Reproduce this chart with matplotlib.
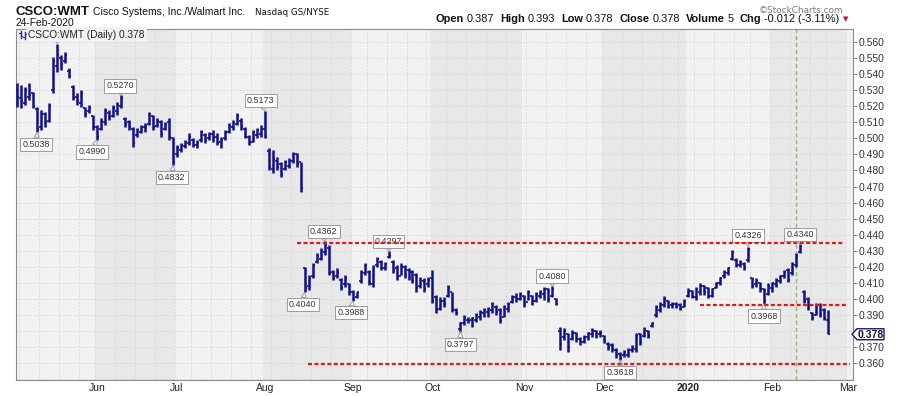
import numpy as np
import pandas as pd
import matplotlib
matplotlib.use("Agg")
import matplotlib.pyplot as plt
from matplotlib.transforms import Affine2D, blended_transform_factory
from matplotlib.patches import Polygon
from matplotlib.lines import Line2D

# ---------------- data (CSCO:WMT daily OHLC) ----------------
start_date = "2019-05-03"
end_date = "2020-02-24"
holidays = ["2019-05-27", "2019-07-04", "2019-09-02", "2019-11-28",
            "2019-12-25", "2020-01-01", "2020-01-20", "2020-02-17"]

high = [.5343,.5332,.5322,.5343,.5291,.5198,.5177,.5166,.5218,.5509,
        .5590,.5519,.5540,.5436,.5332,.5281,.5301,.5198,.5208,.5146,
        .5083,.5125,.5187,.5177,.5208,.5229,.5270,.5135,.5115,.5073,
        .5063,.5083,.5094,.5166,.5146,.5125,.5115,.5104,.5125,.5011,
        .4959,.4969,.4990,.5031,.5000,.4990,.5052,.5031,.5042,.5052,
        .5031,.5011,.5052,.5094,.5115,.5156,.5125,.5073,.5021,.5052,
        .5063,.5083,.5173,.4938,.4928,.4886,.4855,.4865,.4876,.4917,.4907,.4855,
        .4201,.4149,.4222,.4284,.4316,.4362,.4336,.4181,.4191,.4129,
        .4149,.4098,.4056,.4046,.4181,.4222,.4181,.4212,.4264,.4243,
        .4233,.4297,.4243,.4212,.4222,.4212,.4191,.4181,.4160,.4139,
        .4129,.4139,.4181,.4025,.4015,.4015,.4087,.4046,.3942,.3859,
        .3900,.3890,.3890,.3911,.3931,.3942,.3952,.3983,.3963,.3942,
        .3963,.3983,.4025,.4035,.4046,.4025,.4056,.4025,.4046,.4056,
        .4077,.4066,.4080,.4004,.3828,.3817,.3786,.3807,.3797,.3765,
        .3776,.3797,.3817,.3807,.3807,.3776,.3734,.3724,.3693,.3672,
        .3682,.3693,.3714,.3786,.3786,.3828,.3807,.3859,.3963,.3983,
        .4019,.3994,.3983,.3983,.3973,.3998,.4066,.4056,.4077,.4098,
        .4087,.4077,.4066,.4108,.4139,.4181,.4201,.4305,.4253,.4243,
        .4233,.4326,.4139,.4129,.4108,.4066,.4098,.4108,.4129,.4149,
        .4181,.4191,.4233,.4284,.4340,.4056,.4015,.3921,.3973,.3973,.3942,.3930]
low = [.5198,.5187,.5208,.5239,.5187,.5038,.5052,.5073,.5104,.5281,
       .5416,.5426,.5467,.5374,.5239,.5208,.5198,.5135,.5156,.5052,
       .4990,.5052,.5083,.5115,.5135,.5146,.5187,.5073,.5052,.4948,
       .5011,.5031,.5042,.5083,.5052,.5073,.5011,.5052,.4990,.4832,
       .4886,.4917,.4938,.4959,.4948,.4938,.4980,.4969,.4990,.4980,
       .4959,.4938,.4990,.5031,.5052,.5083,.5052,.5000,.4959,.4980,
       .5000,.5011,.5000,.4803,.4782,.4803,.4762,.4803,.4813,.4845,.4824,.4668,
       .4040,.4056,.4129,.4222,.4243,.4274,.4149,.4118,.4129,.4056,
       .4077,.4025,.3988,.4004,.4098,.4149,.4087,.4077,.4201,.4181,
       .4181,.4253,.4160,.4118,.4149,.4129,.4118,.4098,.4046,.4066,
       .4046,.4077,.3973,.3911,.3931,.3952,.4015,.3921,.3900,.3797,
       .3838,.3848,.3828,.3859,.3869,.3890,.3890,.3911,.3900,.3848,
       .3890,.3921,.3973,.3983,.3994,.3952,.3994,.3963,.3983,.4004,
       .3994,.3983,.4015,.3963,.3682,.3745,.3672,.3745,.3734,.3714,
       .3724,.3745,.3765,.3755,.3765,.3724,.3682,.3672,.3630,.3618,
       .3641,.3641,.3672,.3672,.3714,.3765,.3755,.3828,.3890,.3921,
       .3952,.3942,.3942,.3942,.3931,.3948,.4015,.4004,.3994,.4025,
       .4025,.4004,.4015,.4066,.4087,.4129,.4149,.4243,.4201,.4201,
       .4181,.4233,.4066,.4077,.4046,.3968,.4025,.4046,.4077,.4098,
       .4129,.4108,.4149,.4201,.4284,.3973,.3931,.3869,.3900,.3890,.3869,.3780]
open_ = [.5300,.5250,.5220,.5260,.5280,.5180,.5070,.5150,.5110,.5300,
         .5450,.5500,.5480,.5420,.5320,.5260,.5220,.5190,.5170,.5140,
         .5070,.5060,.5100,.5160,.5140,.5170,.5200,.5120,.5100,.5060,
         .5020,.5040,.5070,.5090,.5140,.5080,.5100,.5060,.5100,.5000,
         .4900,.4930,.4950,.4970,.4990,.4960,.4990,.5020,.5000,.5030,
         .5010,.4980,.5000,.5040,.5070,.5090,.5110,.5060,.5010,.4980,
         .5020,.5030,.5060,.4920,.4810,.4860,.4840,.4810,.4830,.4860,.4900,.4850,
         .4190,.4080,.4140,.4230,.4250,.4290,.4320,.4170,.4140,.4120,
         .4090,.4090,.4040,.4010,.4110,.4160,.4170,.4090,.4210,.4230,
         .4190,.4260,.4230,.4190,.4140,.4200,.4180,.4170,.4150,.4080,
         .4110,.4090,.4130,.4010,.3940,.3990,.4020,.4040,.3930,.3810,
         .3850,.3870,.3870,.3870,.3890,.3910,.3920,.3930,.3950,.3930,
         .3890,.3940,.3980,.4010,.4000,.4020,.3980,.4020,.3990,.4020,
         .4030,.4060,.4020,.4000,.3800,.3760,.3780,.3750,.3790,.3750,
         .3730,.3760,.3780,.3800,.3780,.3770,.3720,.3710,.3680,.3660,
         .3650,.3650,.3680,.3690,.3780,.3770,.3800,.3830,.3900,.3930,
         .3960,.3990,.3960,.3970,.3960,.3950,.4020,.4050,.4010,.4040,
         .4080,.4070,.4020,.4070,.4100,.4140,.4160,.4250,.4240,.4210,
         .4220,.4240,.4130,.4090,.4100,.4060,.4030,.4070,.4090,.4110,
         .4140,.4180,.4160,.4210,.4290,.4040,.4000,.3910,.3900,.3960,.3930,.3870]
close = [.5260,.5230,.5300,.5270,.5200,.5060,.5150,.5100,.5200,.5480,
         .5520,.5460,.5520,.5390,.5250,.5230,.5280,.5150,.5190,.5070,
         .5010,.5110,.5170,.5130,.5190,.5210,.5250,.5090,.5070,.4970,
         .5050,.5070,.5080,.5150,.5070,.5110,.5030,.5090,.5010,.4850,
         .4940,.4960,.4980,.5010,.4960,.4980,.5040,.4990,.5030,.5000,
         .4970,.4990,.5040,.5080,.5100,.5140,.5070,.5010,.4980,.5040,
         .5050,.5060,.5010,.4820,.4870,.4820,.4780,.4850,.4860,.4900,.4840,.4690,
         .4070,.4130,.4210,.4270,.4300,.4340,.4160,.4130,.4170,.4070,
         .4130,.4040,.4000,.4040,.4170,.4210,.4100,.4200,.4250,.4190,
         .4220,.4270,.4180,.4140,.4200,.4150,.4130,.4110,.4070,.4120,
         .4060,.4120,.3990,.3930,.3990,.3970,.4070,.3940,.3910,.3850,
         .3880,.3860,.3880,.3900,.3920,.3930,.3940,.3970,.3920,.3860,
         .3950,.3970,.4010,.4000,.4030,.3970,.4040,.3990,.4030,.4040,
         .4060,.4000,.4060,.3970,.3720,.3800,.3700,.3790,.3750,.3730,
         .3760,.3790,.3800,.3770,.3790,.3740,.3700,.3690,.3650,.3630,
         .3670,.3680,.3700,.3770,.3730,.3810,.3770,.3850,.3950,.3970,
         .4000,.3950,.3970,.3950,.3940,.3990,.4050,.4010,.4060,.4080,
         .4040,.4020,.4060,.4100,.4130,.4170,.4190,.4290,.4210,.4230,
         .4190,.4310,.4080,.4110,.4060,.3990,.4080,.4100,.4120,.4140,
         .4170,.4120,.4220,.4270,.4330,.3990,.3950,.3880,.3960,.3900,.3880,.3780]

# labelled highs/lows: (bar index, 'H'/'L', label, box offset px dx, dy)
callouts = [(5, "L", "0.5038", -1, 12),
            (20, "L", "0.4990", -5, 12), (26, "H", "0.5270", -1, -9),
            (39, "L", "0.4832", -1, 12), (62, "H", "0.5173", -4, -10),
            (72, "L", "0.4040", -2, 12), (77, "H", "0.4362", -1, -9.5),
            (84, "L", "0.3988", -1.5, 12), (93, "H", "0.4297", 0, -9.5),
            (111, "L", "0.3797", 0, 13), (134, "H", "0.4080", 0, -10),
            (151, "L", "0.3618", 0, 12), (183, "H", "0.4326", 0, -11),
            (187, "L", "0.3968", 0, 12), (196, "H", "0.4340", 0, -10)]
hidden_peak_bar = 10  # its label box sits under the legend line

# red dashed trend levels: value, start bar, end bar
level_vals = [0.4347, 0.3595, 0.3962]
level_start = [70, 72.9, 171]
level_end = [206.9, 208.5, 208.0]
event_bar = 195

month_names = ["Jun", "Jul", "Aug", "Sep", "Oct", "Nov", "Dec", "2020", "Feb", "Mar"]

# ---------------- figure ----------------
W, H = 900, 396
fig = plt.figure(figsize=(W / 100, H / 100), dpi=100)
fig.patch.set_facecolor("white")
T = Affine2D().scale(0.01, -0.01).translate(0, H / 100) + fig.dpi_scale_trans  # pixel, top-left origin

ax = fig.add_axes([16 / W, 16 / H, (853 - 16) / W, (380 - 29) / H])
XL = (-0.28, 209.3)
YL = (0.3495, 0.5681)
ax.set_xlim(*XL)
ax.set_ylim(*YL)

alld = pd.bdate_range(start_date, "2020-03-06", freq="C", holidays=holidays)
n = len(high)
x = np.arange(n)

# month bands
mstarts = [i for i in range(1, len(alld)) if alld[i].month != alld[i - 1].month]
bounds = [XL[0]] + [m - 0.5 for m in mstarts] + [XL[1]]
for k in range(len(bounds) - 1):
    ax.axvspan(bounds[k], bounds[k + 1], color="#f2f2f2" if k % 2 == 0 else "#e8e8e8", lw=0, zorder=0)

# grid
wstarts = [i for i in range(1, len(alld)) if alld[i].weekday() < alld[i - 1].weekday()]
for w in wstarts:
    ax.axvline(w - 0.5, color="#d4d4d4", lw=0.6, ls=(0, (2, 2)), zorder=1)
for v in np.arange(0.35, 0.5651, 0.01):
    ax.axhline(v, color="#d4d4d4", lw=0.6, ls=(0, (2, 2)), zorder=1)

# event line
ax.axvline(event_bar, color="#93b07e", lw=1.0, ls=(0, (3, 2)), zorder=2)

# OHLC bars
bc = "#10108a"
ax.vlines(x, low, high, color=bc, lw=1.8, zorder=4)
ax.hlines(open_, x - 0.5, x, color=bc, lw=1.2, zorder=4)
ax.hlines(close, x, x + 0.5, color=bc, lw=1.2, zorder=4)

# red levels
for v, s, e in zip(level_vals, level_start, level_end):
    ax.plot([s, e], [v, v], color="#e01818", lw=1.6, dashes=(1.8, 1.1), zorder=7)

# callouts
for i, kind, txt, dx, dy in callouts:
    yv = high[i] if kind == "H" else low[i]
    ax.annotate(txt, xy=(i, yv), xytext=(dx * 0.72, -dy * 0.72), textcoords="offset points",
                ha="center", va="center", fontsize=6.4, color="#333333", family="Liberation Sans",
                bbox=dict(boxstyle="square,pad=0.24", fc="white", ec="#9c9c9c", lw=0.7),
                arrowprops=dict(arrowstyle="wedge,tail_width=0.55,shrink_factor=0.5", fc="white",
                                ec="#9c9c9c", lw=0.7, shrinkA=0, shrinkB=0),
                zorder=6, annotation_clip=False)

# the peak label: only the lower edge of its box and its pointer show below the legend
px, py = ax.transData.transform((hidden_peak_bar, high[hidden_peak_bar]))
py = H - py
fig.add_artist(Line2D([41, 72], [40, 40], transform=T, color="#9c9c9c", lw=0.7, zorder=6))
fig.add_artist(Polygon([(px - 3.5, 40), (px + 3.5, 40), (px, py - 0.5)], closed=True, transform=T,
                       fc="white", ec="#9c9c9c", lw=0.7, zorder=6))

# spines & ticks
for s in ["left", "top", "right"]:
    ax.spines[s].set_color("#8c8c8c")
    ax.spines[s].set_linewidth(0.8)
ax.spines["bottom"].set_color("#8c8c8c")
ax.spines["bottom"].set_linestyle((0, (1, 1)))
ax.spines["bottom"].set_linewidth(0.8)
ax.set_xticks([])
ax.yaxis.tick_right()
yt = np.round(np.arange(0.36, 0.5601, 0.01), 3)
ax.set_yticks(yt)
ax.set_yticklabels(["" if abs(v - 0.38) < 1e-9 else f"{v:.3f}" for v in yt],
                   fontsize=7.5, family="Liberation Sans", color="#333333")
ax.tick_params(axis="y", length=3, width=0.7, color="#777777", pad=1)

# month labels
bt = blended_transform_factory(ax.transData, T)
for m, name in zip(mstarts, month_names):
    fig.text(m, 391, name, transform=bt, ha="center", va="baseline", fontsize=7.5,
             family="Liberation Sans", color="#222222",
             fontweight="bold" if name == "2020" else "normal")

# current price marker
lastv = close[-1]
ym = H - ax.transData.transform((0, lastv))[1]
poly = Polygon([(852, ym), (857, ym - 5.5), (884, ym - 5.5), (884, ym + 5.5), (857, ym + 5.5)],
               closed=True, transform=T, fc="white", ec="#1a1a6e", lw=1.0, zorder=10)
fig.add_artist(poly)
fig.text(870.5, ym + 0.5, f"{lastv:.3f}", transform=T, ha="center", va="center", fontsize=7.5,
         fontweight="bold", family="Liberation Sans", color="#111133", zorder=11)

# legend inside plot
fig.text(28, 37.5, "CSCO:WMT (Daily) 0.378", transform=T, ha="left", va="baseline", fontsize=7.3,
         family="Liberation Sans", color="#222222", zorder=12,
         bbox=dict(boxstyle="square,pad=0.2", fc="#f2f2f2", ec="none"))
for (xa, y1, y2, yo, yc) in [(20.5, 31, 38, 33, 36), (24.5, 32, 39, 37, 34)]:
    fig.add_artist(Line2D([xa, xa], [y1, y2], transform=T, color="#2a2aa0", lw=1.0, zorder=13))
    fig.add_artist(Line2D([xa - 1.5, xa], [yo, yo], transform=T, color="#2a2aa0", lw=0.8, zorder=13))
    fig.add_artist(Line2D([xa, xa + 1.5], [yc, yc], transform=T, color="#2a2aa0", lw=0.8, zorder=13))

# header texts
fig.text(15, 15, "CSCO:WMT", transform=T, fontsize=9.5, fontweight="bold", family="Liberation Sans",
         color="#111111", va="baseline")
fig.text(93, 15, "Cisco Systems, Inc./Walmart Inc.", transform=T, fontsize=7.5, family="Liberation Sans",
         color="#111111", va="baseline")
fig.text(255, 15, "Nasdaq GS/NYSE", transform=T, fontsize=6.3, family="DejaVu Sans",
         color="#111111", va="baseline")
fig.text(15, 26, "24-Feb-2020", transform=T, fontsize=7.4, family="Liberation Sans",
         color="#111111", va="baseline")
fig.text(843, 13, "\u00a9StockCharts.com", transform=T, fontsize=6.4, family="DejaVu Sans",
         color="#7a7a7a", va="baseline", ha="right")

fig.canvas.draw()
rend = fig.canvas.get_renderer()
pieces = [("Open", True), ("0.387", False), ("High", True), ("0.393", False), ("Low", True),
          ("0.378", False), ("Close", True), ("0.378", False), ("Volume", True), ("5", False),
          ("Chg", True), ("-0.012 (-3.11%)", False)]


def header_row(size, x0=436.0):
    xx = x0
    made = []
    for s, b in pieces:
        t = fig.text(xx, 22, s, transform=T, fontsize=size, fontweight="bold" if b else "normal",
                     family="Liberation Sans", color="#111111", va="baseline", ha="left")
        made.append(t)
        wdt = t.get_window_extent(rend).width
        gap = (2.6 if b else 5.8) * size / 7.6
        xx += wdt + gap
    return xx, made


end, made = header_row(7.6)
target = 843.0
for t in made:
    t.remove()
size2 = 7.6 * (target - 436.0) / (end - 436.0)
end, made = header_row(size2)
fig.text(end - 2, 21.5, "\u25bc", transform=T, fontsize=5, color="#c0102a", va="baseline",
         family="DejaVu Sans")

fig.savefig("out.png", dpi=100, facecolor="white")
